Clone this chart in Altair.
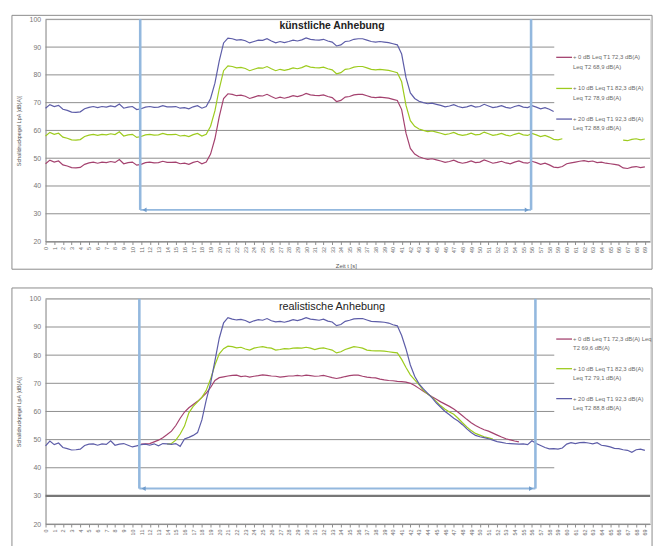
import altair as alt
import pandas as pd

# ---------------- data ----------------
T_STEP = 0.5  # seconds between samples

SERIES = ["+0 dB", "+10 dB", "+20 dB"]
COLORS = ["#a4426f", "#9dcb1e", "#5d5da8"]
LEVEL_OFFSETS = [0, 10, 20]  # artificial raise of the base recording

# top panel: base recording (t = 0 .. 69 s)
TOP_BASE = [
    48.0, 49.3, 48.6, 49.0, 47.6, 47.2, 46.6, 46.5, 46.7, 47.8,
    48.3, 48.6, 48.2, 48.6, 48.4, 48.8, 48.5, 49.5, 48.0, 48.4,
    48.6, 47.5, 47.8, 48.4, 48.6, 48.3, 48.4, 48.9, 48.5, 48.5,
    48.6, 48.0, 48.2, 47.8, 48.5, 48.9, 48.0, 48.6, 51.5, 57.0,
    65.0, 71.5, 73.2, 73.0, 72.5, 72.7, 72.3, 71.5, 72.0, 72.5,
    72.4, 73.0, 72.2, 71.5, 72.0, 71.6, 72.0, 72.5, 72.2, 72.6,
    73.3, 72.8, 72.6, 72.5, 72.8, 72.2, 71.8, 70.4, 70.8, 72.0,
    72.2, 72.8, 73.0, 73.0, 72.5, 72.0, 71.8, 72.0, 71.8, 71.6,
    71.2, 70.8, 67.5, 59.0, 53.5, 51.5, 50.5, 50.0, 49.6, 49.8,
    49.4, 49.0, 48.5, 48.8, 49.3, 48.6, 48.2, 48.5, 49.0, 48.4,
    48.6, 49.4, 48.8, 48.2, 48.5, 48.9, 48.3, 48.0, 48.6, 49.0,
    48.4, 48.2, 48.9, 48.4, 47.8, 48.2, 47.6, 46.8, 46.6, 47.0,
    48.0, 48.3, 48.6, 48.9, 49.1, 48.8, 49.0, 48.4, 48.6, 48.2,
    48.0, 47.8, 47.5, 46.5, 46.3, 46.8, 47.0, 46.6, 46.9,
]
# stretches covered by the legend box in the top panel (seconds)
TOP_HIDDEN = {"+0 dB": [], "+10 dB": [(59.7, 66.3)], "+20 dB": [(58.7, 70.0)]}

# bottom panel
BOT_P0_START = 11.0
BOT_P0 = [
    48.4, 48.5, 48.6, 49.2, 49.8, 50.7, 51.8, 53.0, 55.0, 57.6,
    59.8, 61.3, 62.5, 63.6, 65.0, 66.5, 68.5, 71.0, 72.0, 72.3,
    72.6, 72.8, 72.9, 72.4, 72.6, 72.2, 72.5, 72.7, 73.0, 72.8,
    72.6, 72.5, 72.2, 72.4, 72.6, 72.6, 72.8, 72.6, 72.9, 72.7,
    72.5, 72.6, 72.8, 72.4, 72.0, 71.7, 72.0, 72.4, 72.7, 72.9,
    72.9, 72.5, 72.2, 72.0, 71.9, 71.5, 71.2, 71.0, 70.9, 70.7,
    70.6, 70.4, 70.0, 69.2, 68.2, 67.2, 66.2, 65.2, 64.3, 63.4,
    62.6, 61.8, 60.9, 59.7, 58.5, 57.2, 56.0, 55.0, 54.2, 53.5,
    53.0, 52.3, 51.6, 50.9, 50.3, 49.9, 49.5, 49.2,
]
BOT_P10_START = 14.0
BOT_P10 = [
    48.4, 48.6, 49.8, 52.0, 54.8, 59.5, 61.8, 63.4, 65.0, 67.5,
    71.5, 76.5, 80.5, 82.3, 83.2, 83.0, 82.6, 82.8, 82.2, 81.8,
    82.5, 82.8, 83.0, 82.7, 82.5, 81.8, 82.0, 82.3, 82.2, 82.5,
    82.6, 82.5, 82.8, 82.5, 82.0, 82.4, 82.6, 82.2, 81.8, 80.8,
    81.2, 82.0, 82.5, 83.0, 82.8, 82.5, 81.8, 81.6, 81.5, 81.5,
    81.4, 81.2, 81.0, 80.8, 78.5, 75.6, 73.0, 71.2, 69.5, 67.5,
    66.2, 65.0, 63.5, 62.0, 60.8, 59.8, 59.0, 57.6, 56.0, 54.5,
    53.2, 52.2, 51.6, 51.0, 50.6, 50.2,
]
BOT_P20_START = 0.0
BOT_P20 = [
    47.8, 49.5, 48.2, 48.8, 47.2, 46.8, 46.3, 46.4, 46.6, 47.9,
    48.4, 48.5, 48.0, 48.5, 48.3, 49.6, 48.0, 48.4, 48.6, 48.0,
    47.4, 47.8, 48.2, 48.4, 48.0, 48.5, 47.8, 48.6, 48.5, 48.3,
    48.6, 47.6, 50.2, 50.8, 51.5, 52.5, 57.0, 64.0, 70.0, 78.0,
    86.0, 91.5, 93.3, 92.8, 92.5, 92.7, 92.3, 91.6, 92.2, 92.6,
    92.4, 93.0, 92.2, 91.8, 92.0, 91.7, 92.1, 92.6, 92.3, 92.7,
    93.3, 92.8, 92.6, 92.4, 92.8, 92.1, 91.8, 90.5, 90.9, 92.0,
    92.4, 92.9, 93.0, 93.0, 92.5, 92.0, 91.9, 91.8, 91.7, 91.4,
    90.8, 90.4, 87.0, 82.2, 76.5, 72.5, 69.8, 68.0, 66.4, 64.8,
    63.0, 61.5, 60.0, 58.8, 57.6, 56.6, 55.3, 53.8, 52.5, 51.5,
    51.0, 50.7, 50.3, 49.8, 49.3, 49.0, 48.7, 48.6, 48.5, 48.4,
    48.5, 48.2, 49.6, 48.6, 47.9, 47.2, 46.7, 46.8, 46.6, 47.0,
    48.4, 48.9, 48.6, 48.9, 49.0, 48.8, 48.5, 48.9, 48.0, 47.8,
    47.4, 46.9, 46.8, 46.4, 46.2, 45.5, 46.4, 46.6, 46.2,
]

TOP_LEGEND = [
    ("+ 0 dB Leq T1 72,3 dB(A)", "Leq T2 68,9 dB(A)"),
    ("+ 10 dB Leq T1 82,3 dB(A)", "Leq T2 78,9 dB(A)"),
    ("+ 20 dB Leq T1 92,3 dB(A)", "Leq T2 88,9 dB(A)"),
]
BOT_LEGEND = [
    ("+ 0 dB Leq T1 72,3 dB(A) Leq", "T2 69,6 dB(A)"),
    ("+ 10 dB Leq T1 82,3 dB(A)", "Leq T2 79,1 dB(A)"),
    ("+ 20 dB Leq T1 92,3 dB(A)", "Leq T2 88,8 dB(A)"),
]

# measurement window markers (s) and arrow level (dB)
TOP_MARKERS = [10.9, 55.9]
TOP_ARROW = 31.4
BOT_MARKERS = [10.8, 56.4]
BOT_ARROW = 32.6

Y_TICKS = [20, 30, 40, 50, 60, 70, 80, 90, 100]
X_TICKS = list(range(70))

TOP_GRID_FULL = [100, 50, 40, 30, 20]
TOP_GRID_SHORT = [90, 80, 70, 60]
BOT_GRID_FULL = [100, 90, 50, 20]
BOT_GRID_SHORT = [80, 70, 60, 40]
BOT_GRID_THICK = [30]

# ---------------- build tables ----------------
top_rows = []
for k, name in enumerate(SERIES):
    seg = 0
    prev_hidden = False
    for i, base in enumerate(TOP_BASE):
        t = i * T_STEP
        hidden = any(a <= t <= b for a, b in TOP_HIDDEN[name])
        if hidden:
            if not prev_hidden:
                seg += 1
            prev_hidden = True
            continue
        prev_hidden = False
        top_rows.append({"t": t, "v": base + LEVEL_OFFSETS[k], "s": name,
                         "seg": f"{name}-{seg}"})
top_df = pd.DataFrame(top_rows)

bot_rows = []
for name, start, vals in [(SERIES[0], BOT_P0_START, BOT_P0),
                          (SERIES[1], BOT_P10_START, BOT_P10),
                          (SERIES[2], BOT_P20_START, BOT_P20)]:
    for i, v in enumerate(vals):
        bot_rows.append({"t": start + i * T_STEP, "v": v, "s": name, "seg": name})
bot_df = pd.DataFrame(bot_rows)

# ---------------- chart ----------------
W = 612
SHORT_END = 515
XT = "Zeit t [s]"
YT = "Schalldruckpegel LpA [dB(A)]"
GRID_COLOR = "#8d8d8d"
MARK_COLOR = "#93b8de"
FONT = "Liberation Sans"

x_scale = alt.Scale(domain=[0, 69.6], nice=False, zero=False)
y_scale = alt.Scale(domain=[20, 100], nice=False, zero=False)

X_AXIS = alt.Axis(values=X_TICKS, labelAngle=270, labelFontSize=5.5,
                  labelColor="#6e6e6e", labelPadding=2, tickSize=3,
                  tickColor=GRID_COLOR, domainColor=GRID_COLOR,
                  grid=False, labelFlush=False, labelOverlap=False,
                  titleFontSize=6, titleFontWeight="normal",
                  titleColor="#555555", titleX=304, titleY=24,
                  titleBaseline="middle")


def y_axis(height):
    return alt.Axis(values=Y_TICKS, labelFontSize=7, labelColor="#777777",
                    ticks=False, labelPadding=5, domainColor=GRID_COLOR,
                    grid=False, titleFontSize=5.5, titleFontWeight="normal",
                    titleColor="#555555", titleAngle=270, titleX=-27,
                    titleY=height / 2, titleAlign="center",
                    titleBaseline="middle", labelOverlap=False)


def one():
    return alt.Data(values=[{"d": 0}])


def panel(df, height, title, bold, grid_full, grid_short, grid_thick,
          markers, arrow_v, legend, leg_ys, border_top, border_bottom):
    YA = y_axis(height)

    def X(f):
        return alt.X(f, scale=x_scale, title=XT, axis=X_AXIS)

    def Y(f):
        return alt.Y(f, scale=y_scale, title=YT, axis=YA)

    layers = []

    def grid_layer(vals, end, width, color):
        return alt.Chart(pd.DataFrame({"v": vals})).mark_rule(
            color=color, strokeWidth=width
        ).encode(x=alt.value(0), x2=alt.value(end), y=Y("v:Q"))

    layers.append(grid_layer(grid_full, W, 1, GRID_COLOR))
    layers.append(grid_layer(grid_short, SHORT_END, 1, GRID_COLOR))
    if grid_thick:
        layers.append(grid_layer(grid_thick, W, 2.2, "#777777"))

    lines = alt.Chart(df).mark_line(strokeWidth=1.2, clip=False).encode(
        x=X("t:Q"),
        y=Y("v:Q"),
        color=alt.Color("s:N", scale=alt.Scale(domain=SERIES, range=COLORS), legend=None),
        detail="seg:N",
        order=alt.Order("t:Q"),
    )
    layers.append(lines)

    mk = pd.DataFrame({"t": markers, "v": [arrow_v] * 2, "v2": [100] * 2})
    layers.append(alt.Chart(mk).mark_rule(color=MARK_COLOR, strokeWidth=2.6).encode(
        x=X("t:Q"), y=Y("v:Q"), y2="v2:Q"))
    ar = pd.DataFrame({"t": [markers[0]], "t2": [markers[1]], "v": [arrow_v]})
    layers.append(alt.Chart(ar).mark_rule(color=MARK_COLOR, strokeWidth=2).encode(
        x=X("t:Q"), x2="t2:Q", y=Y("v:Q")))
    heads = pd.DataFrame({"t": [markers[0] + 0.5, markers[1] - 0.5],
                          "v": [arrow_v, arrow_v],
                          "shape": ["triangle-left", "triangle-right"]})
    layers.append(alt.Chart(heads).mark_point(filled=True, size=22, opacity=1,
                                              color="#6f9ccc").encode(
        x=X("t:Q"), y=Y("v:Q"),
        shape=alt.Shape("shape:N", scale=None)))

    # legend (drawn as annotation)
    for k, (l1, l2) in enumerate(legend):
        y1 = leg_ys[k]
        layers.append(alt.Chart(one()).mark_rule(color=COLORS[k], strokeWidth=1.3).encode(
            x=alt.value(517), x2=alt.value(533), y=alt.value(y1)))
        layers.append(alt.Chart(one()).mark_text(
            align="left", baseline="middle", fontSize=6, color="#6a6a6a", font=FONT
        ).encode(x=alt.value(534), y=alt.value(y1), text=alt.value(l1)))
        layers.append(alt.Chart(one()).mark_text(
            align="left", baseline="middle", fontSize=6, color="#6a6a6a", font=FONT
        ).encode(x=alt.value(534), y=alt.value(y1 + 9.5), text=alt.value(l2)))

    # title
    layers.append(alt.Chart(one()).mark_text(
        align="center", baseline="middle", fontSize=10.5 if bold else 11,
        fontWeight="bold" if bold else "normal", color="#222222", font=FONT
    ).encode(x=alt.value(290), y=alt.value(7 if bold else 8), text=alt.value(title)))

    # chart-area frame
    layers.append(alt.Chart(one()).mark_rect(
        fillOpacity=0, stroke="#8a8a8a", strokeWidth=1
    ).encode(x=alt.value(-34), x2=alt.value(614),
             y=alt.value(border_top), y2=alt.value(border_bottom)))

    return alt.layer(*layers).properties(width=W, height=height)


top = panel(top_df, 225, "künstliche Anhebung", True,
            TOP_GRID_FULL, TOP_GRID_SHORT, [], TOP_MARKERS, TOP_ARROW,
            TOP_LEGEND, [38.5, 70, 101], -4, 253)
bottom = panel(bot_df, 228, "realistische Anhebung", False,
               BOT_GRID_FULL, BOT_GRID_SHORT, BOT_GRID_THICK, BOT_MARKERS, BOT_ARROW,
               BOT_LEGEND, [40.7, 70.7, 101], -11, 262)

chart = alt.vconcat(top, bottom, spacing=17).properties(
    padding={"left": 3, "top": 3, "right": 3, "bottom": 3},
    background="white",
).configure_view(stroke=None).configure(font=FONT)

chart.save("out.html", embed_options={"renderer": "svg", "actions": False})
